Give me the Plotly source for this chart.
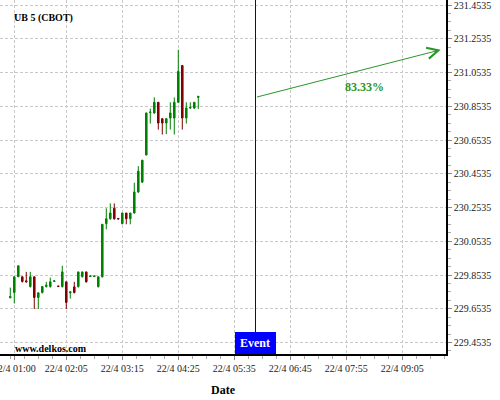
import pandas as pd
import plotly.graph_objects as go

# ---- data ----
start_time = "2024-04-22 00:55"
n_candles = 48
open_ = [229.718, 229.750, 229.843, 229.843, 229.819, 229.785, 229.843, 229.720, 229.750, 229.785,
         229.785, 229.815, 229.789, 229.785, 229.813, 229.748, 229.783, 229.785, 229.844, 229.872,
         229.844, 229.844, 229.785, 229.843, 230.158, 230.187, 230.249, 230.189, 230.158, 230.221,
         230.187, 230.221, 230.345, 230.404, 230.565, 230.816, 230.814, 230.877, 230.780, 230.754,
         230.784, 230.784, 230.877, 231.095, 230.784, 230.843, 230.843, 230.906]
high = [229.779, 229.843, 229.908, 229.843, 229.872, 229.872, 229.843, 229.748, 229.785, 229.813,
        229.838, 229.819, 229.789, 229.908, 229.813, 229.754, 229.813, 229.872, 229.872, 229.872,
        229.848, 229.848, 229.843, 230.154, 230.249, 230.278, 230.278, 230.189, 230.221, 230.221,
        230.221, 230.400, 230.499, 230.534, 230.814, 230.840, 230.906, 230.877, 230.780, 230.780,
        230.877, 230.906, 231.188, 231.095, 230.877, 230.877, 230.877, 230.912]
low = [229.718, 229.685, 229.843, 229.809, 229.809, 229.779, 229.652, 229.652, 229.744, 229.779,
       229.779, 229.815, 229.785, 229.779, 229.652, 229.714, 229.744, 229.779, 229.838, 229.809,
       229.844, 229.844, 229.779, 229.838, 230.124, 230.181, 230.181, 230.185, 230.154, 230.154,
       230.154, 230.217, 230.341, 230.398, 230.562, 230.751, 230.808, 230.715, 230.686, 230.689,
       230.715, 230.686, 230.873, 230.715, 230.751, 230.837, 230.837, 230.837]
close = [229.726, 229.843, 229.908, 229.815, 229.813, 229.843, 229.720, 229.748, 229.785, 229.793,
         229.813, 229.819, 229.785, 229.872, 229.691, 229.754, 229.750, 229.872, 229.872, 229.813,
         229.848, 229.848, 229.843, 230.154, 230.187, 230.221, 230.187, 230.185, 230.221, 230.187,
         230.221, 230.345, 230.469, 230.534, 230.814, 230.819, 230.877, 230.754, 230.754, 230.780,
         230.814, 230.877, 231.060, 230.784, 230.843, 230.847, 230.877, 230.912]

x_tickvals = ["2024-04-22 01:00", "2024-04-22 02:05", "2024-04-22 03:15", "2024-04-22 04:25",
              "2024-04-22 05:35", "2024-04-22 06:45", "2024-04-22 07:55", "2024-04-22 09:05"]
x_ticktext = ["22/4 01:00", "22/4 02:05", "22/4 03:15", "22/4 04:25",
              "22/4 05:35", "22/4 06:45", "22/4 07:55", "22/4 09:05"]
y_tickvals = [229.4535, 229.6535, 229.8535, 230.0535, 230.2535, 230.4535,
              230.6535, 230.8535, 231.0535, 231.2535, 231.4535]
x_range = ["2024-04-22 00:42:08", "2024-04-22 09:59:38"]
y_range = [229.3854, 231.4831]

event_time = "2024-04-22 06:01:30"
arrow_start = ("2024-04-22 06:01:30", 230.906)
arrow_end = ("2024-04-22 09:53", 231.188)
pct_label = ("2024-04-22 08:18", 230.965, "83.33%")
title_text = "UB 5 (CBOT)"
watermark = "www.delkos.com"

times = pd.date_range(start_time, periods=n_candles, freq="5min")

SERIF = "Liberation Serif, Times New Roman, serif"
GREEN = "#008000"
RED = "#800000"
ARROW = "#2a962a"

fig = go.Figure()
fig.add_trace(go.Candlestick(
    x=times, open=open_, high=high, low=low, close=close,
    increasing=dict(line=dict(color=GREEN, width=1), fillcolor=GREEN),
    decreasing=dict(line=dict(color=RED, width=1), fillcolor=RED),
    whiskerwidth=0, hoverinfo="skip", showlegend=False,
))

grid = dict(showgrid=True, gridcolor="#c8c8c8", gridwidth=1, griddash="3px,2px")

fig.update_layout(
    width=500, height=400,
    margin=dict(l=0, r=54, t=0, b=46),
    paper_bgcolor="white", plot_bgcolor="white",
    boxgap=0.45,
    showlegend=False,
    font=dict(family=SERIF, size=10, color="#222"),
    xaxis=dict(
        type="date", range=x_range, rangeslider=dict(visible=False), automargin=False,
        tickmode="array", tickvals=x_tickvals, ticktext=x_ticktext, ticklabeloverflow="allow",
        ticks="outside", ticklen=4, tickcolor="#888", tickfont=dict(family=SERIF, size=10, color="#222"),
        showline=True, linecolor="black", linewidth=1.5, zeroline=False,
        minor=dict(tickmode="linear", tick0="2024-04-22 02:05", dtick=1050000,
                   ticks="outside", ticklen=3, tickcolor="#aaa", showgrid=False),
        title=dict(text="<b>Date</b>", font=dict(family=SERIF, size=12, color="black"), standoff=13),
        **grid,
    ),
    yaxis=dict(
        side="right", range=y_range, automargin=False,
        tickmode="array", tickvals=y_tickvals, tickformat=".4f", ticklabeloverflow="allow",
        ticks="outside", ticklen=4, tickcolor="#888", tickfont=dict(family=SERIF, size=10, color="#222"),
        showline=True, linecolor="black", linewidth=1.5, zeroline=False,
        minor=dict(tickmode="linear", tick0=229.4535, dtick=0.05,
                   ticks="outside", ticklen=3, tickcolor="#aaa", showgrid=False),
        **grid,
    ),
)

# event line
fig.add_shape(type="line", xref="x", yref="paper", x0=event_time, x1=event_time, y0=0, y1=1,
              line=dict(color="#0000a8", width=1))
# event box
fig.add_shape(type="rect", xref="x", yref="paper", xsizemode="pixel", ysizemode="pixel",
              xanchor=event_time, yanchor=0, x0=-20.5, x1=20.5, y0=0, y1=22,
              fillcolor="#0000ff", line=dict(width=0))
fig.add_annotation(x=event_time, xref="x", y=0, yref="paper", yanchor="bottom", yshift=2,
                   text="<b>Event</b>", showarrow=False,
                   font=dict(family=SERIF, size=12, color="white"))

# projection arrow
fig.add_annotation(x=arrow_end[0], y=arrow_end[1], xref="x", yref="y",
                   ax=arrow_start[0], ay=arrow_start[1], axref="x", ayref="y",
                   text="", showarrow=True, arrowhead=5, arrowsize=2.2, arrowwidth=1,
                   arrowcolor=ARROW, standoff=0, startstandoff=0)
fig.add_annotation(x=pct_label[0], y=pct_label[1], xref="x", yref="y", text="<b>" + pct_label[2] + "</b>",
                   showarrow=False, font=dict(family=SERIF, size=12, color=ARROW))

# title and watermark
fig.add_annotation(x=0, xref="paper", xanchor="left", xshift=12, y=1, yref="paper", yanchor="middle", yshift=-18,
                   text="<b>" + title_text + "</b>", showarrow=False,
                   font=dict(family=SERIF, size=10, color="black"))
fig.add_annotation(x=0, xref="paper", xanchor="left", xshift=13, y=0, yref="paper", yanchor="middle", yshift=6,
                   text="<b>" + watermark + "</b>", showarrow=False,
                   font=dict(family=SERIF, size=10, color="black"))

fig.write_html("out.html", config={"displayModeBar": False},
               post_script="document.body.style.margin='0';document.body.style.overflow='hidden';")
